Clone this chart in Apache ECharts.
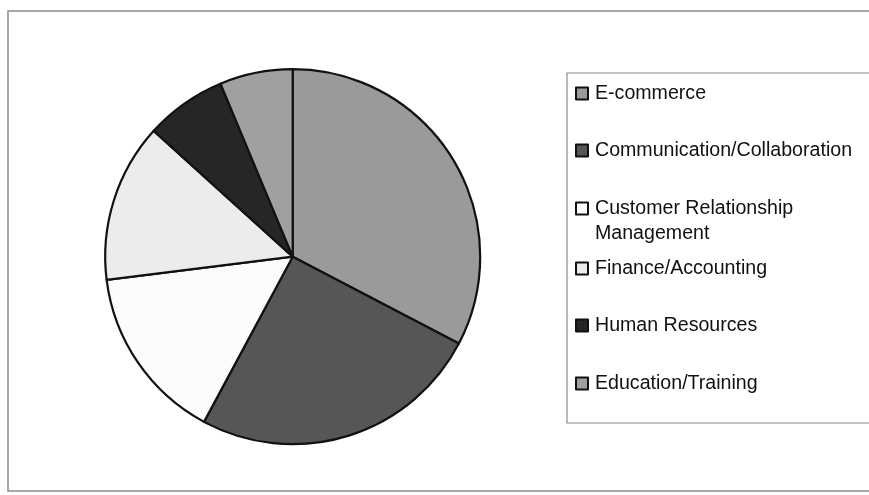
<!DOCTYPE html>
<html>
<head>
<meta charset="utf-8">
<script src="https://cdn.jsdelivr.net/npm/echarts@6/dist/echarts.min.js"></script>
<style>
html,body{margin:0;padding:0;background:#fff;}
#chart{width:869px;height:495px;}
</style>
</head>
<body>
<div id="chart"></div>
<script>
// Data (percent share)
const categories = ['E-commerce', 'Communication/Collaboration', 'Customer Relationship Management', 'Finance/Accounting', 'Human Resources', 'Education/Training'];
const legendLabels = ['E-commerce', 'Communication/Collaboration', '\nCustomer Relationship\nManagement', 'Finance/Accounting', 'Human Resources', 'Education/Training'];
const values = [32.7, 25.2, 15.2, 13.7, 7.0, 6.3];

const colors = ['#9a9a9a', '#565656', '#fcfcfc', '#ececec', '#262626', '#a0a0a0'];
const legendTops = [81, 138, 171, 256, 313, 371];

const chart = echarts.init(document.getElementById('chart'), null, {renderer: 'canvas'});

const legends = categories.map((name, i) => ({
  left: 575,
  top: legendTops[i],
  padding: 0,
  itemWidth: 12,
  itemHeight: 12,
  itemGap: 5,
  selectedMode: false,
  icon: 'rect',
  data: [{name: name}],
  formatter: () => legendLabels[i],
  textStyle: {
    fontFamily: 'Liberation Sans, Arial, Helvetica, sans-serif',
    fontSize: 19.6,
    color: '#111',
    lineHeight: 25,
    padding: [0, 0, 0, 2]
  }
}));

chart.setOption({
  backgroundColor: '#fff',
  animation: false,
  legend: legends,
  graphic: [
    {type: 'rect', shape: {x: 8, y: 11, width: 880, height: 480},
     style: {fill: 'none', stroke: '#8a8a8a', lineWidth: 1.5}, silent: true, z: -1},
    {type: 'rect', shape: {x: 567, y: 73, width: 320, height: 350},
     style: {fill: 'none', stroke: '#8a8a8a', lineWidth: 1.2}, silent: true, z: -1}
  ],
  series: [{
    type: 'pie',
    center: [292.7, 256.7],
    radius: [0, 187.5],
    startAngle: 90,
    clockwise: true,
    label: {show: false},
    labelLine: {show: false},
    emphasis: {disabled: true},
    itemStyle: {borderColor: '#111', borderWidth: 2.2},
    data: categories.map((c, i) => ({
      name: c,
      value: values[i],
      itemStyle: {color: colors[i]}
    }))
  }]
});
</script>
</body>
</html>
